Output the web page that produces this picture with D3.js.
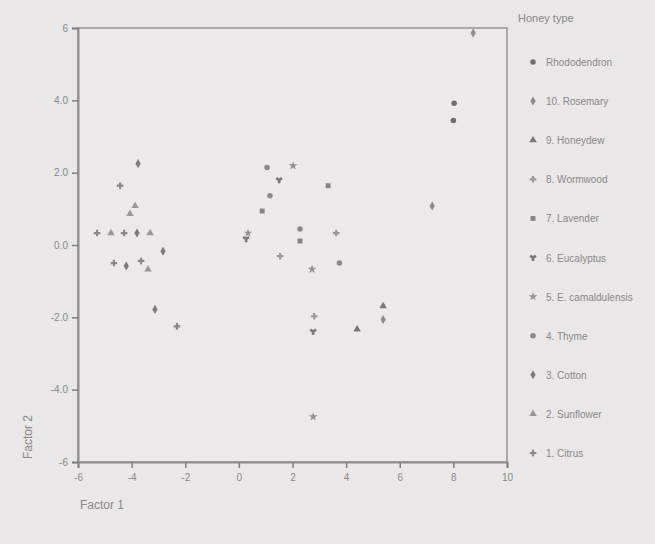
<!DOCTYPE html>
<html>
<head>
<meta charset="utf-8">
<script src="https://cdn.jsdelivr.net/npm/d3@7"></script>
<style>
  body { margin: 0; background: #e9e7e7; }
  text { font-family: "Liberation Sans", Arial, sans-serif; fill: #8a8888; }
</style>
</head>
<body>
<div id="chart"></div>
<script>
// data (factor scores per honey sample)
const factor1 = [-5.29, -4.77, -4.28, -3.80, -3.31, -3.76, -4.43, -3.87, -4.06, -4.66, -4.20, -3.65, -3.39, -2.83, -3.13, -2.31,
  1.05, 2.02, 1.50, 1.16, 0.87, 0.34, 0.27, 1.54, 2.28, 2.28, 2.73, 2.81, 2.77, 3.33, 3.63, 3.75, 2.77, 4.41, 5.38, 5.38, 7.21, 8.03, 8.00, 8.74]
const factor2 = [0.33, 0.33, 0.33, 0.33, 0.33, 2.25, 1.64, 1.08, 0.86, -0.50, -0.58, -0.44, -0.67, -0.17, -1.78, -2.25,
  2.14, 2.19, 1.80, 1.36, 0.94, 0.33, 0.17, -0.31, 0.44, 0.11, -0.67, -1.97, -2.39, 1.64, 0.33, -0.50, -4.75, -2.33, -1.69, -2.06, 1.08, 3.92, 3.44, 5.86]
const honeyType = [1, 2, 1, 3, 2, 3, 1, 2, 2, 1, 3, 1, 2, 3, 3, 1,
  4, 5, 6, 4, 7, 5, 6, 8, 4, 7, 5, 8, 6, 7, 8, 4, 5, 9, 9, 10, 10, 11, 11, 10]

const typeCodes = [11, 10, 9, 8, 7, 6, 5, 4, 3, 2, 1]
const typeLabels = ['Rhododendron', '10. Rosemary', '9. Honeydew', '8. Wormwood', '7. Lavender', '6. Eucalyptus',
  '5. E. camaldulensis', '4. Thyme', '3. Cotton', '2. Sunflower', '1. Citrus']
const xTicks = [-6, -4, -2, 0, 2, 4, 6, 8, 10]
const yTicks = [6, 4, 2, 0, -2, -4, -6]
const yTickLabels = ['6', '4.0', '2.0', '0.0', '-2.0', '-4.0', '-6']

const width = 655,
  height = 544
const plotLeft = 78, plotRight = 507, plotTop = 28, plotBottom = 462

let svg = d3.select('#chart')
  .append('svg')
  .attr('width', width)
  .attr('height', height)
  .style('background', '#e9e7e7')

const x = d3.scaleLinear().domain([-6, 10]).range([plotLeft, plotRight])
const y = d3.scaleLinear().domain([-6, 6]).range([plotBottom, plotTop])

const shapes = [d3.symbolSquare, d3.symbolCross, d3.symbolTriangle, d3.symbolDiamond, d3.symbolCircle, d3.symbolStar, d3.symbolWye]
const shade = d3.scaleOrdinal()
  .domain(typeCodes)
  .range(['#6f6d6d', '#8c8a8a', '#777', '#999', '#858383', '#7a7878', '#929090', '#8a8888', '#7d7b7b', '#999797', '#888'])
const symbolOf = t => d3.symbol().type(shapes[t % shapes.length]).size(24)()

// plot frame
svg.append('rect')
  .attr('x', plotLeft).attr('y', plotTop)
  .attr('width', plotRight - plotLeft).attr('height', plotBottom - plotTop)
  .attr('fill', '#ebe9e9')
  .attr('stroke', '#a9a7a7')
  .attr('stroke-width', 2)

// axes
let yAxis = svg.append('g')
  .attr('transform', `translate(${plotLeft}, 0)`)
  .call(d3.axisLeft(y).tickValues(yTicks).tickFormat((d, i) => yTickLabels[i]).tickSize(6).tickPadding(4))
let xAxis = svg.append('g')
  .attr('transform', `translate(0, ${plotBottom})`)
  .call(d3.axisBottom(x).tickValues(xTicks).tickFormat(d => String(d)).tickSize(6).tickPadding(6))
;[xAxis, yAxis].forEach(a => {
  a.select('.domain').attr('stroke', '#8f8d8d').attr('stroke-width', 2)
  a.selectAll('.tick line').attr('stroke', '#7f7d7d').attr('stroke-width', 1.5)
  a.selectAll('.tick text').style('font-size', '10px').attr('fill', '#8a8888')
})

// points
svg.append('g')
  .selectAll('path')
  .data(factor1)
  .enter()
  .append('path')
  .attr('transform', (d, i) => `translate(${x(d)}, ${y(factor2[i])})`)
  .attr('d', (d, i) => symbolOf(honeyType[i]))
  .attr('fill', (d, i) => shade(honeyType[i]))

// axis titles
svg.append('text')
  .attr('x', 80).attr('y', 509)
  .style('font-size', '12px')
  .text('Factor 1')
svg.append('text')
  .attr('transform', 'translate(32, 437) rotate(-90)')
  .attr('text-anchor', 'middle')
  .style('font-size', '12px')
  .text('Factor 2')

// legend
let legend = svg.append('g').attr('transform', 'translate(518, 0)')
legend.append('text')
  .attr('x', 0).attr('y', 22)
  .style('font-size', '11px')
  .text('Honey type')
let rows = legend.selectAll('g.row')
  .data(typeCodes)
  .enter()
  .append('g')
  .attr('class', 'row')
  .attr('transform', (d, i) => `translate(0, ${62 + i * 39.1})`)
rows.append('path')
  .attr('transform', 'translate(15, 0)')
  .attr('d', d => symbolOf(d))
  .attr('fill', d => shade(d))
rows.append('text')
  .attr('x', 28).attr('y', 4)
  .style('font-size', '10px')
  .text((d, i) => typeLabels[i])
</script>
</body>
</html>
